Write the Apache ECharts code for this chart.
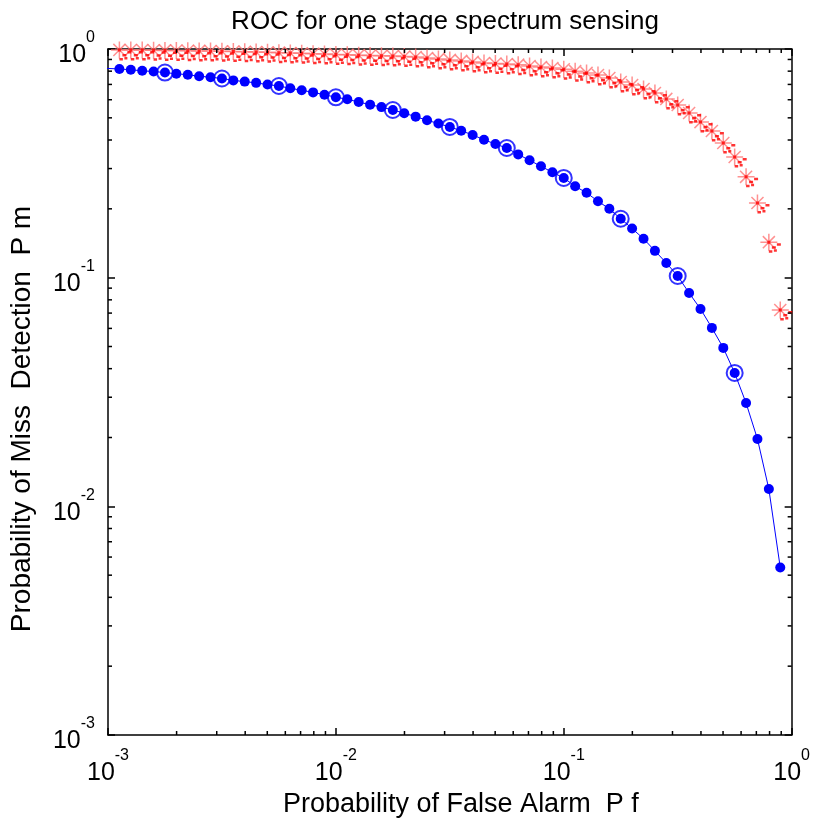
<!DOCTYPE html>
<html>
<head>
<meta charset="utf-8">
<script src="https://cdn.jsdelivr.net/npm/echarts@6/dist/echarts.min.js"></script>
<style>html,body{margin:0;padding:0;background:#fff}#c{width:813px;height:823px}</style>
</head>
<body>
<div id="c"></div>
<script>
// ---- data ----
const titleText = 'ROC for one stage spectrum sensing';
const xAxisTitle = 'Probability of False Alarm  P f';
const yAxisTitle = 'Probability of Miss  Detection  P m';
const axisMin = 0.001;
const axisMax = 1;
const minorTicks = [0.002,0.003,0.004,0.005,0.006,0.007,0.008,0.009,
  0.02,0.03,0.04,0.05,0.06,0.07,0.08,0.09,
  0.2,0.3,0.4,0.5,0.6,0.7,0.8,0.9];
// false alarm probabilities (shared by both curves); first point lies just left of the axis
const pf = [0.000891,0.001122,0.001259,0.001413,0.001585,0.001778,0.001995,0.002239,0.002512,0.002818,0.003162,
  0.003548,0.003981,0.004467,0.005012,0.005623,0.006310,0.007079,0.007943,0.008913,0.01,
  0.01122,0.01259,0.01413,0.01585,0.01778,0.01995,0.02239,0.02512,0.02818,0.03162,
  0.03548,0.03981,0.04467,0.05012,0.05623,0.06310,0.07079,0.07943,0.08913,0.1,
  0.1122,0.1259,0.1413,0.1585,0.1778,0.1995,0.2239,0.2512,0.2818,0.3162,
  0.3548,0.3981,0.4467,0.5012,0.5623,0.6310,0.7079,0.7943,0.8913];
// blue curve (filled dots)
const pmBlue = [0.826,0.818,0.811,0.803,0.797,0.789,0.779,0.772,0.760,0.753,0.743,
  0.729,0.720,0.711,0.699,0.689,0.673,0.660,0.646,0.631,0.615,
  0.603,0.586,0.571,0.557,0.541,0.524,0.506,0.488,0.472,0.456,
  0.439,0.421,0.401,0.384,0.369,0.346,0.326,0.307,0.289,0.273,
  0.251,0.235,0.216,0.200,0.181,0.164,0.148,0.131,0.116,0.1017,
  0.0857,0.0730,0.0603,0.0493,0.0383,0.0283,0.0197,0.0119,0.0054];
// blue open circles
const pfCircle = [0.001778,0.003162,0.005623,0.01,0.01778,0.03162,0.05623,0.1,0.1778,0.3162,0.5623];
const pmCircle = [0.789,0.743,0.689,0.615,0.541,0.456,0.369,0.273,0.181,0.1017,0.0383];
// red curve (asterisks)
const pmRed = [0.992,0.991,0.990,0.989,0.988,0.986,0.985,0.983,0.981,0.979,0.977,
  0.975,0.972,0.970,0.967,0.964,0.961,0.957,0.954,0.950,0.947,
  0.943,0.940,0.937,0.934,0.931,0.927,0.922,0.914,0.905,0.896,
  0.887,0.878,0.869,0.864,0.860,0.854,0.843,0.834,0.826,0.815,
  0.800,0.786,0.770,0.747,0.717,0.696,0.668,0.642,0.605,0.569,
  0.525,0.479,0.438,0.388,0.337,0.276,0.212,0.143,0.0722];

// ---- chart ----
const FONT = "'Liberation Sans', Arial, Helvetica, sans-serif";
const zip = (a, b) => a.map((v, i) => [v, b[i]]);
const powLabel = v => '{b|10}{s|' + Math.round(Math.log10(v)) + '}';
const richLabel = {
  b: { fontSize: 25, fontFamily: FONT, color: '#000', lineHeight: 38, verticalAlign: 'bottom' },
  s: { fontSize: 16, fontFamily: FONT, color: '#000', lineHeight: 14, verticalAlign: 'top' }
};
const AXC = '#000';
function mkAxis(pos, show) {
  return {
    type: 'log', logBase: 10, min: axisMin, max: axisMax, position: pos,
    axisLine: { show: true, onZero: false, lineStyle: { color: AXC, width: 1.5 } },
    axisTick: { show: true, inside: true, length: 7, lineStyle: { color: AXC, width: 1.5 } },
    splitLine: { show: false },
    minorTick: { show: false },
    axisLabel: show ? { show: true, formatter: powLabel, rich: richLabel, margin: 13 } : { show: false }
  };
}
const xBottom = Object.assign(mkAxis('bottom', true), {
  name: xAxisTitle, nameLocation: 'middle', nameGap: 53,
  nameTextStyle: { fontSize: 27, fontFamily: FONT, color: '#000', padding: [0, 0, 0, 22] }
});
const yLeft = Object.assign(mkAxis('left', true), {
  name: yAxisTitle, nameLocation: 'middle', nameGap: 72,
  nameTextStyle: { fontSize: 28, fontFamily: FONT, color: '#000', padding: [0, 54, 0, 0] }
});
const xTop = mkAxis('top', false);
const yRight = mkAxis('right', false);

const asteriskPath = 'path://M0 12 L24 12 M12 0 L12 24 M3.5 3.5 L20.5 20.5 M20.5 3.5 L3.5 20.5';
const dashPath = 'path://M0 0 M24 24 M10.5 10.5 L13.5 10.5 L13.5 13.5 L10.5 13.5 Z M20 13 L24 13 L24 15.5 L20 15.5 Z M15 16 L19 16 L19 18.5 L15 18.5 Z M12 20 L15.5 20 L15.5 22.5 L12 22.5 Z M17 19 L20 19 L20 21.5 L17 21.5 Z';

function tickSeries(axis) {
  return {
    type: 'custom', silent: true, clip: false, z: 5,
    data: minorTicks.map(v => axis === 'x' ? [v, axisMin] : [axisMin, v]),
    renderItem: function (params, api) {
      const v = axis === 'x' ? api.value(0) : api.value(1);
      const L = 4;
      const st = { stroke: AXC, lineWidth: 1.5 };
      if (axis === 'x') {
        const b = api.coord([v, axisMin]);
        const t = api.coord([v, axisMax]);
        return { type: 'group', children: [
          { type: 'line', shape: { x1: b[0], y1: b[1], x2: b[0], y2: b[1] - L }, style: st },
          { type: 'line', shape: { x1: t[0], y1: t[1], x2: t[0], y2: t[1] + L }, style: st }
        ]};
      } else {
        const l = api.coord([axisMin, v]);
        const r = api.coord([axisMax, v]);
        return { type: 'group', children: [
          { type: 'line', shape: { x1: l[0], y1: l[1], x2: l[0] + L, y2: l[1] }, style: st },
          { type: 'line', shape: { x1: r[0], y1: r[1], x2: r[0] - L, y2: r[1] }, style: st }
        ]};
      }
    }
  };
}

const chart = echarts.init(document.getElementById('c'), null, { renderer: 'canvas' });
chart.setOption({
  backgroundColor: '#fff',
  animation: false,
  title: {
    text: titleText, left: 440, top: 4, textAlign: 'center',
    textStyle: { fontSize: 26, fontWeight: 'normal', fontFamily: FONT, color: '#000' }
  },
  grid: { left: 107, right: 21, top: 49, bottom: 88, containLabel: false },
  xAxis: [xBottom, xTop],
  yAxis: [yLeft, yRight],
  series: [
    {
      type: 'scatter', data: zip(pfCircle, pmCircle), symbol: 'emptyCircle', symbolSize: 16,
      itemStyle: { color: '#0000ff', borderColor: '#0000ff', borderWidth: 1 }, z: 2
    },
    {
      type: 'line', data: zip(pf, pmBlue), symbol: 'circle', symbolSize: 10, showAllSymbol: true,
      lineStyle: { color: '#0000ff', width: 1 }, itemStyle: { color: '#0000ff' }, z: 3
    },
    {
      type: 'scatter', data: zip(pf, pmRed).slice(1), symbol: asteriskPath, symbolSize: 17,
      itemStyle: { color: 'rgba(0,0,0,0)', borderColor: '#ff7676', borderWidth: 1.5 }, z: 4
    },
    {
      type: 'scatter', data: zip(pf, pmRed).slice(1), symbol: dashPath, symbolSize: 24,
      itemStyle: { color: '#ff0000' }, z: 4
    },
    tickSeries('x'),
    tickSeries('y')
  ]
});
</script>
</body>
</html>
